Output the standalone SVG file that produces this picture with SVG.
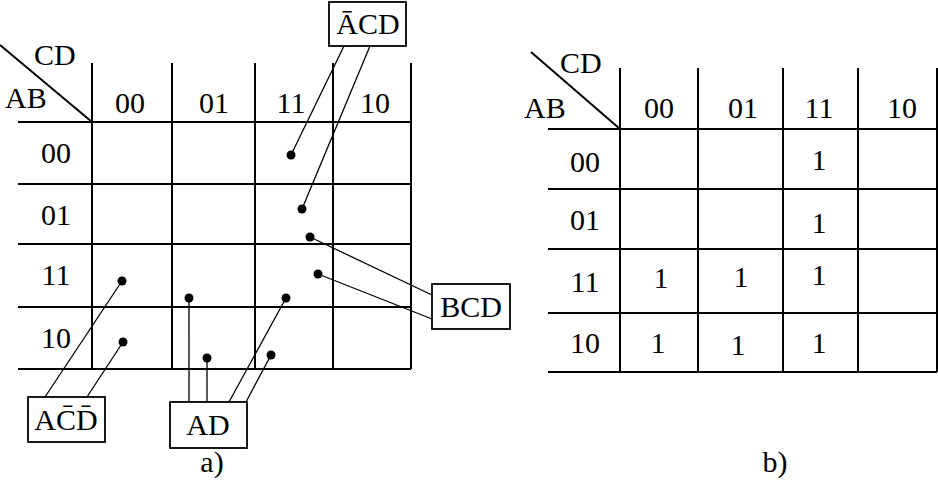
<svg xmlns="http://www.w3.org/2000/svg" width="938" height="482" viewBox="0 0 938 482">
<style>
text{font-family:'Liberation Serif','DejaVu Serif',serif;font-size:30px;fill:#000}
.c{text-anchor:middle}
.g{stroke:#000;stroke-width:2;fill:none}
.t{stroke:#000;stroke-width:1.3;fill:none}
.b{stroke:#000;stroke-width:1.8;fill:#fff}
circle{fill:#000}
</style>
<rect width="938" height="482" fill="#fff"/>
<g id="mapA">
<path class="g" d="M0,45L92,122M92,63V369M172,63V369M255,63V369M333,63V369M411,63V369M18,122H411M18,184H411M18,244H411M18,307H411M18,369H411"/>
<text x="34" y="65">CD</text>
<text x="5" y="108">AB</text>
<text class="c" x="130" y="113">00</text>
<text class="c" x="214" y="113">01</text>
<text class="c" x="291" y="113">11</text>
<text class="c" x="375" y="113">10</text>
<text class="c" x="56" y="163">00</text>
<text class="c" x="56" y="225">01</text>
<text class="c" x="56" y="285">11</text>
<text class="c" x="56" y="348">10</text>
<text class="c" x="212" y="472">a)</text>
</g>
<g id="connectors">
<path class="t" d="M344,46L291,155M370,46L302,209M310,237L432,295M318,274L432,319M122,281L45,397M123,342L87,397M189,298V402M207,358V402M286,298L229,402M271,355L246,402"/>
<circle cx="291" cy="155" r="4.5"/>
<circle cx="302" cy="209" r="4.5"/>
<circle cx="310" cy="237" r="4.5"/>
<circle cx="318" cy="274" r="4.5"/>
<circle cx="122" cy="281" r="4.5"/>
<circle cx="123" cy="342" r="4.5"/>
<circle cx="189" cy="298" r="4.5"/>
<circle cx="207" cy="358" r="4.5"/>
<circle cx="286" cy="298" r="4.5"/>
<circle cx="271" cy="355" r="4.5"/>
</g>
<g id="nACD">
<rect class="b" x="329" y="2" width="77" height="44"/>
<text class="c" x="368" y="34">ĀCD</text>
</g>
<g id="BCD">
<rect class="b" x="432" y="284" width="78" height="45"/>
<text class="c" x="471" y="317">BCD</text>
</g>
<g id="AnCnD">
<rect class="b" x="28" y="397" width="77" height="45"/>
<text class="c" x="66" y="430">AC̄D̄</text>
</g>
<g id="AD">
<rect class="b" x="170" y="402" width="77" height="46"/>
<text class="c" x="208" y="435">AD</text>
</g>
<g id="mapB">
<path class="g" d="M531,52L620,129M620,68V372M698,68V372M783,68V372M858,68V372M937,68V372M548,129H937M548,189H937M548,249H937M548,313H937M548,372H937"/>
<text x="560" y="73">CD</text>
<text x="524" y="118">AB</text>
<text class="c" x="659" y="118">00</text>
<text class="c" x="743" y="118">01</text>
<text class="c" x="819" y="118">11</text>
<text class="c" x="902" y="118">10</text>
<text class="c" x="585" y="172">00</text>
<text class="c" x="585" y="230">01</text>
<text class="c" x="585" y="292">11</text>
<text class="c" x="585" y="353">10</text>
<text class="c" x="819" y="170">1</text>
<text class="c" x="819" y="233">1</text>
<text class="c" x="819" y="285">1</text>
<text class="c" x="819" y="353">1</text>
<text class="c" x="661" y="288">1</text>
<text class="c" x="658" y="353">1</text>
<text class="c" x="741" y="287">1</text>
<text class="c" x="738" y="355">1</text>
<text class="c" x="775" y="472">b)</text>
</g>
</svg>
